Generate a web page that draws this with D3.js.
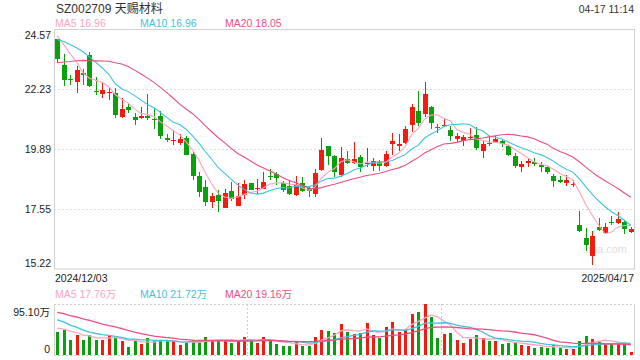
<!DOCTYPE html>
<meta charset="utf-8">
<script src="https://d3js.org/d3.v7.min.js"></script>
<style>
  body { margin: 0; background: #fff; }
  text { font-family: Arial, "Liberation Sans", "Noto Sans CJK SC", sans-serif; }
</style>
<div id="chart"></div>
<script>
  // daily k-line SZ002709, 2024/12/03 - 2025/04/17 (90 sessions)
  var openP = [24.18, 23.20, 22.62, 22.51, 22.86, 23.59, 22.17, 22.04, 22.13, 22.09,
    21.15, 21.53, 21.17, 21.10, 21.21, 21.08, 21.21, 20.35, 20.23, 20.14,
    20.33, 19.72, 18.86, 18.44, 17.82, 18.09, 17.62, 18.27, 17.69, 18.09,
    18.57, 18.37, 18.35, 18.86, 18.91, 18.57, 18.47, 18.09, 18.57, 18.39,
    18.13, 19.09, 20.01, 19.64, 18.90, 19.51, 19.35, 19.60, 19.35, 19.26,
    19.39, 19.25, 20.09, 20.01, 20.14, 20.83, 21.40, 21.26, 21.55, 20.77,
    20.84, 20.66, 20.31, 20.20, 20.37, 20.46, 19.81, 20.14, 20.18, 20.22,
    20.03, 19.64, 19.20, 19.35, 19.39, 19.29, 19.20, 18.87, 18.70, 18.57,
    18.54, 16.94, 16.42, 15.73, 16.85, 16.62, 17.05, 17.03, 17.07, 16.67];
  var highP = [24.18, 23.63, 22.78, 23.16, 23.03, 23.70, 22.72, 22.51, 22.33, 22.29,
    21.90, 21.68, 21.31, 21.55, 22.05, 21.51, 21.38, 20.50, 20.63, 20.49,
    20.40, 19.77, 18.99, 18.68, 18.18, 18.31, 18.34, 18.62, 18.57, 18.70,
    18.57, 18.73, 19.02, 19.12, 18.99, 18.64, 18.70, 18.87, 18.83, 18.47,
    19.12, 20.32, 20.03, 19.68, 19.99, 19.81, 20.19, 19.67, 19.95, 19.55,
    19.48, 19.81, 20.53, 20.50, 20.82, 21.68, 22.18, 22.51, 21.60, 20.89,
    21.10, 20.79, 20.53, 20.44, 20.71, 20.75, 20.23, 20.37, 20.40, 20.27,
    20.07, 19.75, 19.45, 19.55, 19.55, 19.38, 19.25, 18.92, 18.87, 18.88,
    18.70, 17.50, 16.83, 16.71, 17.23, 17.03, 17.27, 17.46, 17.14, 16.87];
  var lowP = [23.27, 22.38, 22.42, 22.09, 22.42, 22.33, 22.01, 21.88, 21.81, 21.12,
    21.13, 21.31, 20.83, 21.08, 21.05, 20.69, 20.31, 20.16, 20.07, 20.06,
    19.67, 18.68, 18.05, 17.66, 17.62, 17.43, 17.59, 17.89, 17.66, 17.95,
    18.29, 18.16, 18.34, 18.68, 18.49, 18.23, 18.10, 18.08, 18.21, 18.05,
    18.05, 19.03, 19.29, 18.83, 18.81, 19.33, 19.30, 18.99, 19.20, 19.03,
    19.03, 19.22, 19.68, 19.81, 20.11, 20.57, 20.79, 21.15, 20.68, 20.53,
    20.76, 20.20, 20.16, 20.03, 20.27, 19.85, 19.54, 20.01, 20.14, 19.98,
    19.64, 19.16, 18.99, 19.22, 19.25, 18.99, 18.94, 18.42, 18.57, 18.47,
    18.44, 16.68, 15.94, 15.38, 16.72, 16.59, 16.94, 16.98, 16.59, 16.64];
  var closeP = [23.40, 22.59, 22.61, 22.97, 22.80, 22.38, 22.16, 22.22, 22.14, 21.25,
    21.48, 21.44, 21.05, 21.21, 21.10, 21.07, 20.42, 20.24, 20.25, 20.31,
    19.68, 18.87, 18.21, 17.82, 18.08, 17.86, 18.18, 17.95, 18.08, 18.55,
    18.31, 18.38, 18.62, 18.85, 18.76, 18.31, 18.13, 18.49, 18.26, 18.25,
    18.96, 19.87, 19.64, 18.99, 19.56, 19.35, 19.51, 19.20, 19.36, 19.42,
    19.25, 19.72, 20.23, 20.11, 20.70, 21.56, 20.91, 22.07, 20.91, 20.76,
    20.85, 20.40, 20.40, 20.36, 20.38, 19.93, 20.11, 20.13, 20.29, 20.11,
    19.68, 19.25, 19.33, 19.45, 19.30, 19.20, 18.99, 18.64, 18.62, 18.70,
    18.55, 16.72, 16.16, 16.51, 16.75, 16.85, 17.04, 17.16, 16.79, 16.77];
  // volume, 万
  var volume = [43.8, 46.9, 28.2, 37.5, 28.2, 36.9, 28.2, 28.2, 35.7, 34.4,
    26.3, 15.0, 26.9, 20.6, 31.3, 26.3, 28.2, 25.7, 25.7, 18.8,
    21.9, 28.2, 24.4, 33.2, 28.2, 29.4, 28.2, 23.2, 26.9, 33.2,
    26.9, 23.2, 33.2, 26.9, 20.6, 16.9, 16.9, 25.0, 16.9, 16.9,
    33.2, 46.9, 45.0, 41.9, 58.2, 43.2, 39.4, 41.9, 60.1, 37.5,
    31.9, 52.6, 61.9, 43.2, 48.2, 77.0, 80.7, 95.1, 71.3, 31.9,
    39.4, 41.3, 28.2, 22.5, 30.0, 37.5, 31.9, 26.3, 26.3, 20.6,
    21.5, 23.5, 19.5, 17.5, 13.5, 15.0, 13.1, 18.0, 13.1, 11.3,
    11.3, 26.3, 35.0, 30.7, 25.0, 20.6, 20.6, 23.2, 19.4, 5.1];
  // sessions before the window (estimated from where the MA lines start)
  var prevClose = [22.0, 22.2, 22.4, 22.5, 22.6, 22.3, 22.3, 22.3, 22.5, 22.5,
    23.4, 23.8, 24.2, 24.35, 24.4, 24.3, 24.4, 24.6, 24.95];
  var prevVolume = [90, 110, 85, 100, 95, 88, 105, 92, 80, 88,
    85, 90, 75, 82, 75, 55, 48, 50, 53.2];

  var priceTicks = [24.57, 22.23, 19.89, 17.55, 15.22];
  var dateLabels = ["2024/12/03", "2025/04/17"];
  var maDays = [5, 10, 20];
  var maColors = ["#f9a6c0", "#3ec3e0", "#ea4f7f"];
  var priceLegend = ["16.96", "16.96", "18.05"];
  var volLegend = ["17.76万", "21.72万", "19.16万"];

  var red = "#f21b0e", green = "#09a10b";

  var W = 640, H = 360;
  var left = 54, right = 634;
  var mainTop = 29.5, mainBottom = 269;
  var volTop = 304, volBottom = 355;

  var svg = d3.select("#chart").append("svg")
    .attr("width", W).attr("height", H);

  var n = closeP.length;
  var x = d3.scaleBand().domain(d3.range(n)).range([left, right]).padding(0);
  var bw = x.bandwidth();
  var cx = function(i) { return x(i) + bw / 2; };
  var y = d3.scaleLinear().domain([15.22, 24.57]).range([mainBottom, mainTop]);
  var yv = d3.scaleLinear().domain([0, 95.1]).range([volBottom, volTop]);

  function movingAvg(prev, arr, k) {
    var all = prev.concat(arr);
    return arr.map(function(d, i) {
      var j = i + prev.length;
      return d3.mean(all.slice(j - k + 1, j + 1));
    });
  }

  var up = function(i) { return closeP[i] >= openP[i]; };

  // title + time
  svg.append("text").attr("x", 56).attr("y", 12.5)
    .style("font-size", "12px").attr("fill", "#333").text("SZ002709 天赐材料");
  svg.append("text").attr("x", right).attr("y", 12.5).attr("text-anchor", "end")
    .style("font-size", "10.5px").attr("fill", "#333").text("04-17 11:14");

  // legends
  var legX = [55, 140, 225];
  maDays.forEach(function(d, k) {
    svg.append("text").attr("x", legX[k]).attr("y", 27)
      .style("font-size", "10.5px").attr("fill", maColors[k])
      .text("MA" + d + " " + priceLegend[k]);
    svg.append("text").attr("x", legX[k]).attr("y", 298)
      .style("font-size", "10.5px").attr("fill", maColors[k])
      .text("MA" + d + " " + volLegend[k]);
  });

  // main grid
  svg.append("g").selectAll("line").data(priceTicks.slice(1, 4)).join("line")
    .attr("x1", left).attr("x2", right)
    .attr("y1", function(d) { return Math.round(y(d)) + 0.5; })
    .attr("y2", function(d) { return Math.round(y(d)) + 0.5; })
    .attr("stroke", "#ddd").attr("stroke-dasharray", "2,2");
  svg.append("rect").attr("x", left + 0.5).attr("y", mainTop)
    .attr("width", right - left).attr("height", mainBottom - mainTop)
    .attr("fill", "none").attr("stroke", "#d0d0d0");

  svg.append("g").selectAll("text").data(priceTicks).join("text")
    .attr("x", 51).attr("text-anchor", "end")
    .attr("y", function(d, i) {
      if (i === 0) return mainTop + 9.8;
      if (i === priceTicks.length - 1) return mainBottom - 2.3;
      return y(d) + 3.9;
    })
    .style("font-size", "10.5px").attr("fill", "#222")
    .text(function(d) { return d.toFixed(2); });

  // date labels
  svg.append("text").attr("x", 55).attr("y", 281.5).style("font-size", "10.5px")
    .attr("fill", "#222").text(dateLabels[0]);
  svg.append("text").attr("x", right).attr("y", 281.5).attr("text-anchor", "end")
    .style("font-size", "10.5px").attr("fill", "#222").text(dateLabels[1]);

  // watermark
  svg.append("text").attr("x", 583).attr("y", 253).style("font-size", "11px")
    .attr("fill", "#dcdcdc").text("sina.com");

  // candles
  var cg = svg.append("g").attr("shape-rendering", "crispEdges");
  cg.selectAll("line").data(d3.range(n)).join("line")
    .attr("x1", function(i) { return Math.round(cx(i)) + 0.5; })
    .attr("x2", function(i) { return Math.round(cx(i)) + 0.5; })
    .attr("y1", function(i) { return y(highP[i]); })
    .attr("y2", function(i) { return y(lowP[i]); })
    .attr("stroke", function(i) { return up(i) ? red : green; });
  cg.selectAll("rect").data(d3.range(n)).join("rect")
    .attr("x", function(i) { return Math.round(cx(i)) - 2; })
    .attr("width", 5)
    .attr("y", function(i) { return y(Math.max(openP[i], closeP[i])); })
    .attr("height", function(i) {
      return Math.max(1, Math.abs(y(openP[i]) - y(closeP[i])));
    })
    .attr("fill", function(i) { return up(i) ? red : green; });

  // price MA lines
  maDays.forEach(function(d, k) {
    var m = movingAvg(prevClose, closeP, d);
    svg.append("path").datum(m)
      .attr("fill", "none").attr("stroke", maColors[k]).attr("stroke-width", 1.1)
      .attr("d", d3.line().x(function(v, i) { return cx(i); }).y(function(v) { return y(v); }));
  });

  // volume panel
  svg.append("g").selectAll("line").data([volTop, volBottom]).join("line")
    .attr("x1", left).attr("x2", right)
    .attr("y1", function(d) { return d + 0.5; }).attr("y2", function(d) { return d + 0.5; })
    .attr("stroke", "#ccc").attr("stroke-dasharray", "2,2");
  svg.append("g").selectAll("line").data([1, 2]).join("line")
    .attr("x1", function(d) { return Math.round(left + (right - left) * d / 3) + 0.5; })
    .attr("x2", function(d) { return Math.round(left + (right - left) * d / 3) + 0.5; })
    .attr("y1", volTop).attr("y2", volBottom)
    .attr("stroke", "#ccc").attr("stroke-dasharray", "2,2");
  svg.append("g").selectAll("line").data([left, right]).join("line")
    .attr("x1", function(d) { return d + 0.5; }).attr("x2", function(d) { return d + 0.5; })
    .attr("y1", volTop).attr("y2", volBottom)
    .attr("stroke", "#d0d0d0");

  svg.append("text").attr("x", 50).attr("y", 315.5).attr("text-anchor", "end")
    .style("font-size", "10.5px").attr("fill", "#222").text("95.10万");
  svg.append("text").attr("x", 50).attr("y", 352.5).attr("text-anchor", "end")
    .style("font-size", "10.5px").attr("fill", "#222").text("0");

  svg.append("g").attr("shape-rendering", "crispEdges")
    .selectAll("rect").data(d3.range(n)).join("rect")
    .attr("x", function(i) { return Math.round(cx(i)) - 1.5; })
    .attr("width", 3.5)
    .attr("y", function(i) { return yv(volume[i]); })
    .attr("height", function(i) { return volBottom - yv(volume[i]); })
    .attr("fill", function(i) { return up(i) ? red : green; });

  maDays.forEach(function(d, k) {
    var m = movingAvg(prevVolume, volume, d);
    svg.append("path").datum(m)
      .attr("fill", "none").attr("stroke", maColors[k]).attr("stroke-width", 1.3)
      .attr("d", d3.line().x(function(v, i) { return cx(i); }).y(function(v) { return yv(v); }));
  });
</script>
